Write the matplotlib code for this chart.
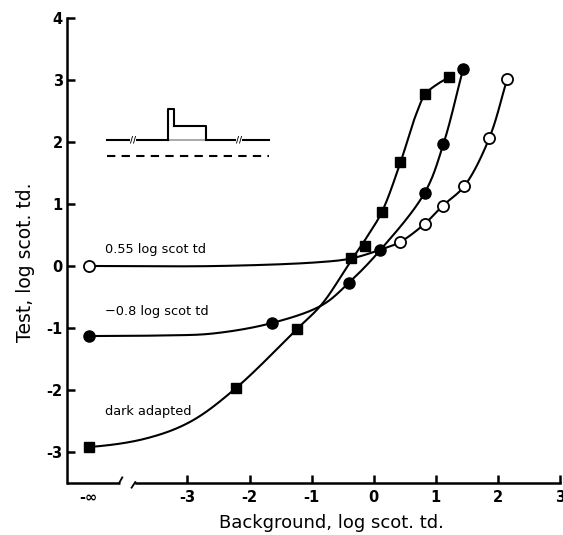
import matplotlib
matplotlib.use("Agg")
import matplotlib.pyplot as plt
import numpy as np

# x position used for the "-inf" column (no background)
NEG_INF = -4.59

dark_x = [NEG_INF, -2.22, -1.24, -0.37, -0.14, 0.13, 0.43, 0.83, 1.21]
dark_y = [-2.92, -1.97, -1.02, 0.13, 0.33, 0.87, 1.67, 2.77, 3.04]

low_x = [NEG_INF, -1.64, -0.40, 0.10, 0.82, 1.12, 1.44]
low_y = [-1.13, -0.92, -0.27, 0.25, 1.18, 1.96, 3.18]

high_x = [NEG_INF, 0.43, 0.82, 1.11, 1.46, 1.86, 2.15]
high_y = [0.0, 0.39, 0.68, 0.97, 1.29, 2.06, 3.02]

# hand-drawn fitted curves
dark_curve_x = [NEG_INF, -3.66, -2.95, -2.22, -1.24, -0.83, -0.37, -0.14, 0.13,
                0.43, 0.68, 0.83, 1.02, 1.21]
dark_curve_y = [-2.92, -2.78, -2.51, -1.97, -1.02, -0.61, 0.08, 0.42, 0.87,
                1.67, 2.44, 2.77, 2.93, 3.04]

low_curve_x = [NEG_INF, -3.4, -2.6, -1.64, -0.83, -0.40, 0.10, 0.82, 1.12, 1.44]
low_curve_y = [-1.13, -1.12, -1.09, -0.92, -0.63, -0.27, 0.25, 1.18, 1.96, 3.18]

high_curve_x = [NEG_INF, -2.5, -0.9, -0.37, 0.10, 0.43, 0.82, 1.11, 1.46, 1.86, 2.15]
high_curve_y = [0.0, 0.0, 0.06, 0.12, 0.26, 0.39, 0.68, 0.97, 1.29, 2.06, 3.02]

labels = ["0.55 log scot td", "\u22120.8 log scot td", "dark adapted"]
label_y = [0.27, -0.74, -2.35]

x_ticks = [-3, -2, -1, 0, 1, 2, 3]
y_ticks = [-3, -2, -1, 0, 1, 2, 3, 4]


def catmull_rom(cx, cy, n=60, alpha=0.5):
    """Centripetal Catmull-Rom through the traced knots; starts with a flat tangent."""
    P = np.column_stack([cx, cy]).astype(float)
    start = np.array([2 * P[0, 0] - P[1, 0], P[0, 1]])
    stop = 2 * P[-1] - P[-2]
    P = np.vstack([start, P, stop])
    out = []
    for i in range(len(P) - 3):
        p0, p1, p2, p3 = P[i:i + 4]
        t0 = 0.0
        t1 = t0 + np.linalg.norm(p1 - p0) ** alpha
        t2 = t1 + np.linalg.norm(p2 - p1) ** alpha
        t3 = t2 + np.linalg.norm(p3 - p2) ** alpha
        t = np.linspace(t1, t2, n)[:, None]
        a1 = (t1 - t) / (t1 - t0) * p0 + (t - t0) / (t1 - t0) * p1
        a2 = (t2 - t) / (t2 - t1) * p1 + (t - t1) / (t2 - t1) * p2
        a3 = (t3 - t) / (t3 - t2) * p2 + (t - t2) / (t3 - t2) * p3
        b1 = (t2 - t) / (t2 - t0) * a1 + (t - t0) / (t2 - t0) * a2
        b2 = (t3 - t) / (t3 - t1) * a2 + (t - t1) / (t3 - t1) * a3
        out.append((t2 - t) / (t2 - t1) * b1 + (t - t1) / (t2 - t1) * b2)
    pts = np.vstack(out)
    return pts[:, 0], pts[:, 1]


def draw_curve(ax, cx, cy):
    xs, ys = catmull_rom(cx, cy)
    ax.plot(xs, ys, color="black", lw=1.5, zorder=2)


fig = plt.figure(figsize=(5.63, 5.35), dpi=100)
ax = fig.add_axes([0.119, 0.0972, 0.8757, 0.8692])

draw_curve(ax, dark_curve_x, dark_curve_y)
draw_curve(ax, low_curve_x, low_curve_y)
draw_curve(ax, high_curve_x, high_curve_y)

ax.plot(dark_x, dark_y, "s", ms=7.5, color="black", zorder=3)
ax.plot(low_x, low_y, "o", ms=8, color="black", zorder=3)
ax.plot(high_x, high_y, "o", ms=8, mfc="white", mec="black", mew=1.3, zorder=3)

for txt, yy in zip(labels, label_y):
    ax.text(-4.33, yy, txt, fontsize=9.3, ha="left", va="center")

# stimulus schematic (upper left)
base_y, step_y, pulse_y, dash_y = 2.03, 2.26, 2.53, 1.77
x0, x1, s0, p1, s1 = -4.30, -1.69, -3.32, -3.21, -2.70
ax.plot([x0, s0], [base_y, base_y], color="black", lw=1.5)
ax.plot([s1, x1], [base_y, base_y], color="black", lw=1.5)
ax.plot([s0, s1], [base_y, base_y], color="0.6", lw=1.2)
ax.plot([s0, s0, p1, p1], [base_y, pulse_y, pulse_y, step_y], color="black", lw=1.5)
ax.plot([p1, s1, s1], [step_y, step_y, base_y], color="black", lw=1.5)
ax.plot([x0, x1], [dash_y, dash_y], color="black", lw=1.5, ls=(0, (4, 3)))
for sx in (-3.88, -2.17):
    ax.text(sx, base_y, "//", fontsize=6, ha="center", va="center",
            fontweight="bold", bbox=dict(fc="white", ec="none", pad=0))

ax.set_xlim(-4.94, 3.0)
ax.set_ylim(-3.5, 4.0)

ax.spines["top"].set_visible(False)
ax.spines["right"].set_visible(False)
ax.spines["left"].set_linewidth(1.8)
ax.spines["bottom"].set_linewidth(1.8)
ax.spines["bottom"].set_bounds(-3.83, 3.0)

# left piece of the broken x axis, with the break slashes
tr = ax.get_xaxis_transform()
ax.plot([-4.94, -4.09], [0, 0], color="black", lw=1.8, transform=tr, clip_on=False,
        solid_capstyle="butt")
ax.plot([-4.10, -4.05], [0.0, 0.012], color="black", lw=1.3, transform=tr, clip_on=False)
ax.plot([-3.90, -3.84], [-0.010, 0.002], color="black", lw=1.3, transform=tr, clip_on=False)

ax.set_xticks([NEG_INF] + x_ticks)
ax.set_xticklabels(["-\u221e"] + [str(v) for v in x_ticks])
ax.xaxis.get_major_ticks()[0].tick1line.set_visible(False)
ax.set_yticks(y_ticks)
ax.set_yticklabels([str(v) for v in y_ticks])
ax.tick_params(direction="in", length=6, width=1.8, labelsize=10.5, pad=3)
ax.tick_params(axis="x", pad=5)
for lab in ax.get_xticklabels() + ax.get_yticklabels():
    lab.set_fontweight("bold")

ax.set_xlabel("Background, log scot. td.", fontsize=13)
ax.set_ylabel("Test, log scot. td.", fontsize=13.5)
ax.xaxis.set_label_coords(0.536, -0.066)
ax.yaxis.set_label_coords(-0.064, 0.475)

fig.savefig("out.png", dpi=100)
